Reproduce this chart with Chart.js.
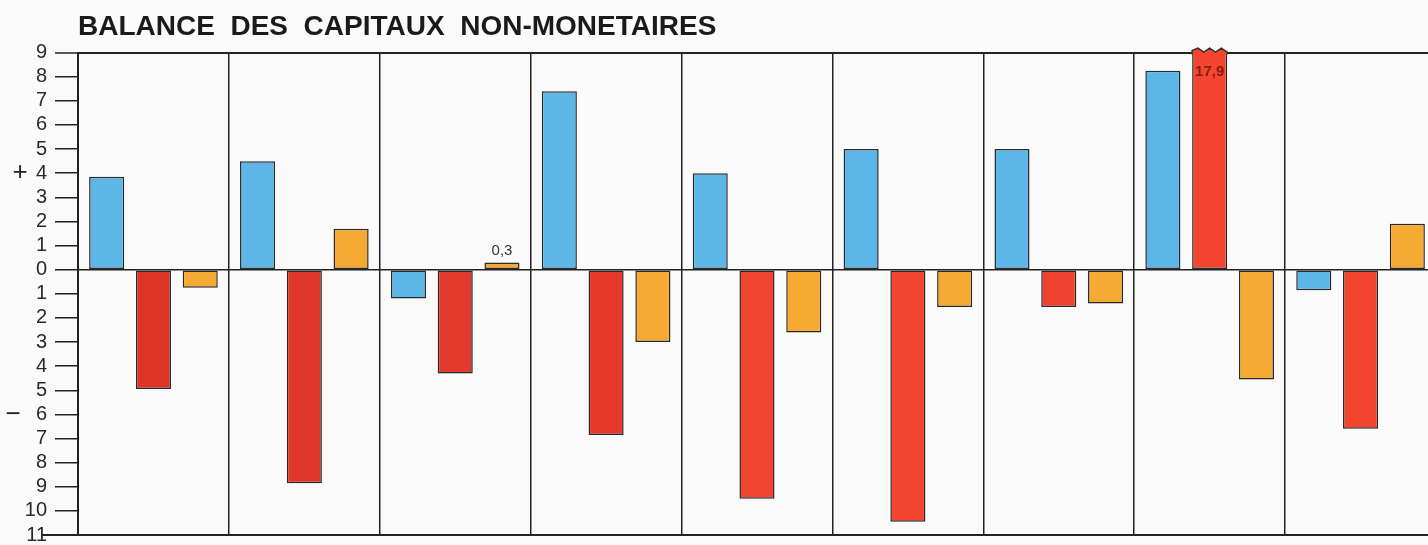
<!DOCTYPE html>
<html>
<head>
<meta charset="utf-8">
<script src="https://cdn.jsdelivr.net/npm/chart.js@4"></script>
<style>
html,body{margin:0;padding:0;background:#fafafa;overflow:hidden;width:1428px;height:545px;}
#wrap{position:relative;width:1428px;height:545px;overflow:hidden;}
canvas{display:block;}
</style>
</head>
<body>
<div id="wrap"><canvas id="c" width="1436" height="555"></canvas></div>
<script>
const categories = ["1","2","3","4","5","6","7","8","9"];
const blueValues = [3.85, 4.5, -1.2, 7.4, 4.0, 5.0, 5.0, 8.25, -0.85];
const redValues = [-4.95, -8.85, -4.3, -6.85, -9.5, -10.45, -1.55, 17.9, -6.6];
const orangeValues = [-0.75, 1.7, 0.3, -3.0, -2.6, -1.55, -1.4, -4.55, 1.9];
const yTicks = [9,8,7,6,5,4,3,2,1,0,-1,-2,-3,-4,-5,-6,-7,-8,-9,-10,-11];
const titleText = "BALANCE  DES  CAPITAUX  NON-MONETAIRES";
const valueLabels = [
  {dataset: 2, index: 2, text: "0,3", where: "above"},
  {dataset: 1, index: 7, text: "17,9", where: "insideTop"}
];

const redColors = ["#de3529","#e0372b","#e23a2c","#e6392c","#f2442f","#f4452f","#f0412e","#f4462f","#f4452f"];

const decor = {
  id: 'decor',
  afterDatasetsDraw(chart) {
    const ctx = chart.ctx;
    const area = chart.chartArea;
    const ys = chart.scales.y;
    const el = chart.getDatasetMeta(1).data[7];
    const half = el.width / 2;
    const xl = el.x - half, xr = el.x + half;
    const n = 6;
    const wave = () => {
      ctx.beginPath();
      ctx.moveTo(xl, area.top + 2);
      ctx.lineTo(xl, area.top - 2);
      for (let i = 1; i <= n; i++) {
        const x = xl + (xr - xl) * i / n;
        const y = area.top - 2 + (i % 2 ? -2.5 : 1.5);
        ctx.lineTo(x, y);
      }
      ctx.lineTo(xr, area.top + 2);
    };
    ctx.save();
    ctx.fillStyle = redColors[7];
    ctx.strokeStyle = '#333';
    ctx.lineWidth = 1.5;
    wave(); ctx.closePath(); ctx.fill();
    wave(); ctx.stroke();
    valueLabels.forEach(l => {
      const e = chart.getDatasetMeta(l.dataset).data[l.index];
      ctx.textAlign = 'center';
      if (l.where === 'above') {
        ctx.font = '15px "Liberation Sans", Arial, sans-serif';
        ctx.fillStyle = '#333';
        ctx.textBaseline = 'bottom';
        ctx.fillText(l.text, e.x, e.y - 4);
      } else {
        ctx.font = 'bold 15px "Liberation Sans", Arial, sans-serif';
        ctx.fillStyle = '#8a1c12';
        ctx.textBaseline = 'top';
        ctx.fillText(l.text, e.x, area.top + 12);
      }
    });
    ctx.fillStyle = '#222';
    ctx.font = '26px "Liberation Sans", Arial, sans-serif';
    ctx.textAlign = 'center';
    ctx.textBaseline = 'middle';
    ctx.fillText('+', 20, ys.getPixelForValue(4));
    ctx.fillText('\u2212', 13, ys.getPixelForValue(-6));
    ctx.strokeStyle = '#222';
    ctx.lineWidth = 2;
    ctx.beginPath();
    ctx.moveTo(42, area.bottom);
    ctx.lineTo(area.left, area.bottom);
    ctx.stroke();
    ctx.restore();
  }
};

new Chart(document.getElementById('c'), {
  type: 'bar',
  data: {
    labels: categories,
    datasets: [
      {data: blueValues, backgroundColor: '#5cb7e8', borderColor: '#2a2a2a', borderWidth: 1.5, borderSkipped: false},
      {data: redValues, backgroundColor: redColors, borderColor: '#2a2a2a', borderWidth: 1.5, borderSkipped: false},
      {data: orangeValues, backgroundColor: '#f7aa33', borderColor: '#2a2a2a', borderWidth: 1.5, borderSkipped: false}
    ]
  },
  options: {
    responsive: false,
    animation: false,
    categoryPercentage: 0.93,
    barPercentage: 0.75,
    layout: {padding: {left: 0, right: 0, top: 0, bottom: 0}},
    plugins: {
      legend: {display: false},
      tooltip: {enabled: false},
      title: {
        display: true,
        text: titleText,
        align: 'start',
        fullSize: false,
        color: '#1a1a1a',
        font: {family: '"Liberation Sans", Arial, sans-serif', size: 28, weight: 'bold'},
        padding: {top: 10, bottom: 9}
      }
    },
    scales: {
      x: {
        offset: true,
        ticks: {display: false},
        grid: {display: true, offset: true, color: '#222', lineWidth: 1.5, drawTicks: false},
        border: {display: true, color: '#222', width: 2},
        afterFit: s => { s.height = 0; }
      },
      y: {
        min: -11,
        max: 9,
        afterBuildTicks: s => { s.ticks = yTicks.map(v => ({value: v})); },
        ticks: {
          autoSkip: false,
          color: '#2a2a2a',
          padding: 8,
          font: {family: '"Liberation Sans", Arial, sans-serif', size: 20},
          callback: v => String(Math.abs(v))
        },
        grid: {
          drawTicks: true,
          tickLength: 23,
          tickColor: '#222',
          tickWidth: 1.5,
          color: ctx => (ctx.tick && (ctx.tick.value === 0 || ctx.tick.value === 9)) ? '#222' : 'rgba(0,0,0,0)',
          lineWidth: ctx => (ctx.tick && ctx.tick.value === 9) ? 2 : 1.5
        },
        border: {display: true, color: '#222', width: 2},
        afterFit: s => { s.width = 78; }
      }
    }
  },
  plugins: [decor]
});
</script>
</body>
</html>
